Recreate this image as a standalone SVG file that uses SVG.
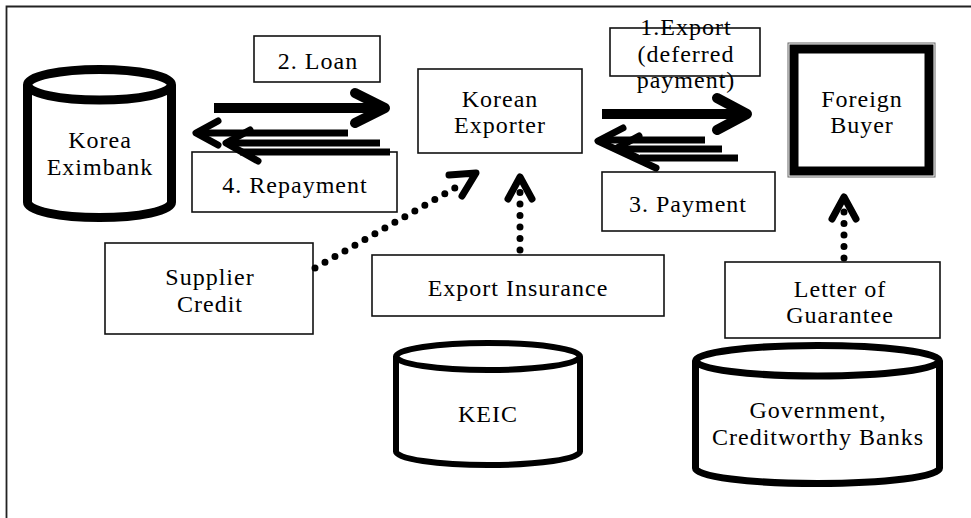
<svg xmlns="http://www.w3.org/2000/svg" width="971" height="518" viewBox="0 0 971 518">
<style>
text{font-family:"Liberation Serif","Times New Roman",serif;font-size:24px;letter-spacing:1px;fill:#000;text-anchor:middle}
.box{fill:#fff;stroke:#111;stroke-width:1.6}
.cyl{fill:#fff;stroke:#000}
.solid{fill:none;stroke:#000;stroke-linecap:butt}
.head{fill:none;stroke:#000;stroke-linecap:round;stroke-linejoin:round}
.dots{fill:none;stroke:#000;stroke-width:7;stroke-linecap:round;stroke-dasharray:0 11.5}
</style>
<rect width="971" height="518" fill="#fff"/>
<path d="M6.5,518 V6.5 H971" fill="none" stroke="#222" stroke-width="1.8"/>

<g id="korea-eximbank">
<path class="cyl" stroke-width="9" d="M27.5,84.75 V202.25 A72,15.25 0 0 0 171.5,202.25 V84.75 A72,15.25 0 0 0 27.5,84.75 A72,15.25 0 0 0 171.5,84.75"/>
<text x="100" y="148">Korea</text>
<text x="100" y="175">Eximbank</text>
</g>

<g id="loan-label">
<rect class="box" x="254" y="36" width="126" height="46"/>
<text x="318" y="69">2. Loan</text>
</g>

<g id="repayment-label">
<rect class="box" x="192" y="152" width="205" height="60"/>
<text x="295" y="193">4. Repayment</text>
</g>

<g id="korean-exporter">
<rect class="box" x="418" y="69" width="164" height="84"/>
<text x="500" y="107">Korean</text>
<text x="500" y="133">Exporter</text>
</g>

<g id="export-label">
<rect class="box" x="610" y="28" width="150" height="48"/>
<text x="686" y="35">1.Export</text>
<text x="686" y="62">(deferred</text>
<text x="686" y="88">payment)</text>
</g>

<g id="payment-label">
<rect class="box" x="602" y="172" width="173" height="59"/>
<text x="688" y="212">3. Payment</text>
</g>

<g id="foreign-buyer">
<rect x="788" y="43" width="147" height="134" fill="#fff" stroke="#666" stroke-width="1"/>
<rect x="794" y="49" width="135" height="122" fill="#fff" stroke="#000" stroke-width="9"/>
<text x="862" y="107">Foreign</text>
<text x="862" y="133">Buyer</text>
</g>

<g id="supplier-credit">
<rect class="box" x="105" y="243" width="208" height="91"/>
<text x="210" y="285">Supplier</text>
<text x="210" y="312">Credit</text>
</g>

<g id="export-insurance">
<rect class="box" x="372" y="255" width="292" height="61"/>
<text x="518" y="296">Export Insurance</text>
</g>

<g id="keic">
<path class="cyl" stroke-width="6" d="M396,356.5 V451.5 A92,13.5 0 0 0 580,451.5 V356.5 A92,13.5 0 0 0 396,356.5 A92,13.5 0 0 0 580,356.5"/>
<text x="488" y="422">KEIC</text>
</g>

<g id="letter-of-guarantee">
<rect class="box" x="725" y="262" width="215" height="76"/>
<text x="840" y="297">Letter of</text>
<text x="840" y="323">Guarantee</text>
</g>

<g id="government-banks">
<path class="cyl" stroke-width="7" d="M695.5,360.75 V468.25 A122,15.25 0 0 0 939.5,468.25 V360.75 A122,15.25 0 0 0 695.5,360.75 A122,15.25 0 0 0 939.5,360.75"/>
<text x="818" y="418">Government,</text>
<text x="818" y="445">Creditworthy Banks</text>
</g>

<g id="connectors">
<!-- 2. Loan -->
<path class="solid" stroke-width="10" d="M214,108 H382"/>
<path class="head" stroke-width="10" d="M355,93 L385,108 L355,123"/>
<!-- 4. Repayment -->
<path class="solid" stroke-width="7" d="M348,133 H198"/>
<path class="head" stroke-width="7" d="M218,121 L196,133 L218,145"/>
<path class="solid" stroke-width="7" d="M380,143 H230"/>
<path class="head" stroke-width="7" d="M250,130 L226,143 L258,161"/>
<path class="solid" stroke-width="7" d="M390,152 H240"/>
<!-- 1. Export -->
<path class="solid" stroke-width="10" d="M602,114 H744"/>
<path class="head" stroke-width="10" d="M717,98 L747,114 L717,130"/>
<!-- 3. Payment -->
<path class="solid" stroke-width="7" d="M705,140 H602"/>
<path class="head" stroke-width="7" d="M623,128 L598,141 L656,168"/>
<path class="solid" stroke-width="7" d="M722,149 H616"/>
<path class="head" stroke-width="7" d="M639,136 L617,148 L642,160"/>
<path class="solid" stroke-width="7" d="M738,158 H640"/>
<!-- Supplier credit -->
<path class="dots" d="M315,268 L462,184"/>
<path class="head" stroke-width="7" d="M449,175 L476,173 L462,196"/>
<!-- Export insurance -->
<path class="dots" d="M520,250 V192"/>
<path class="head" stroke-width="7" d="M508,199 L520,177 L532,199"/>
<!-- Letter of guarantee -->
<path class="dots" d="M844,258 V206"/>
<path class="head" stroke-width="7" d="M832,219 L844,197 L856,219"/>
</g>
</svg>
